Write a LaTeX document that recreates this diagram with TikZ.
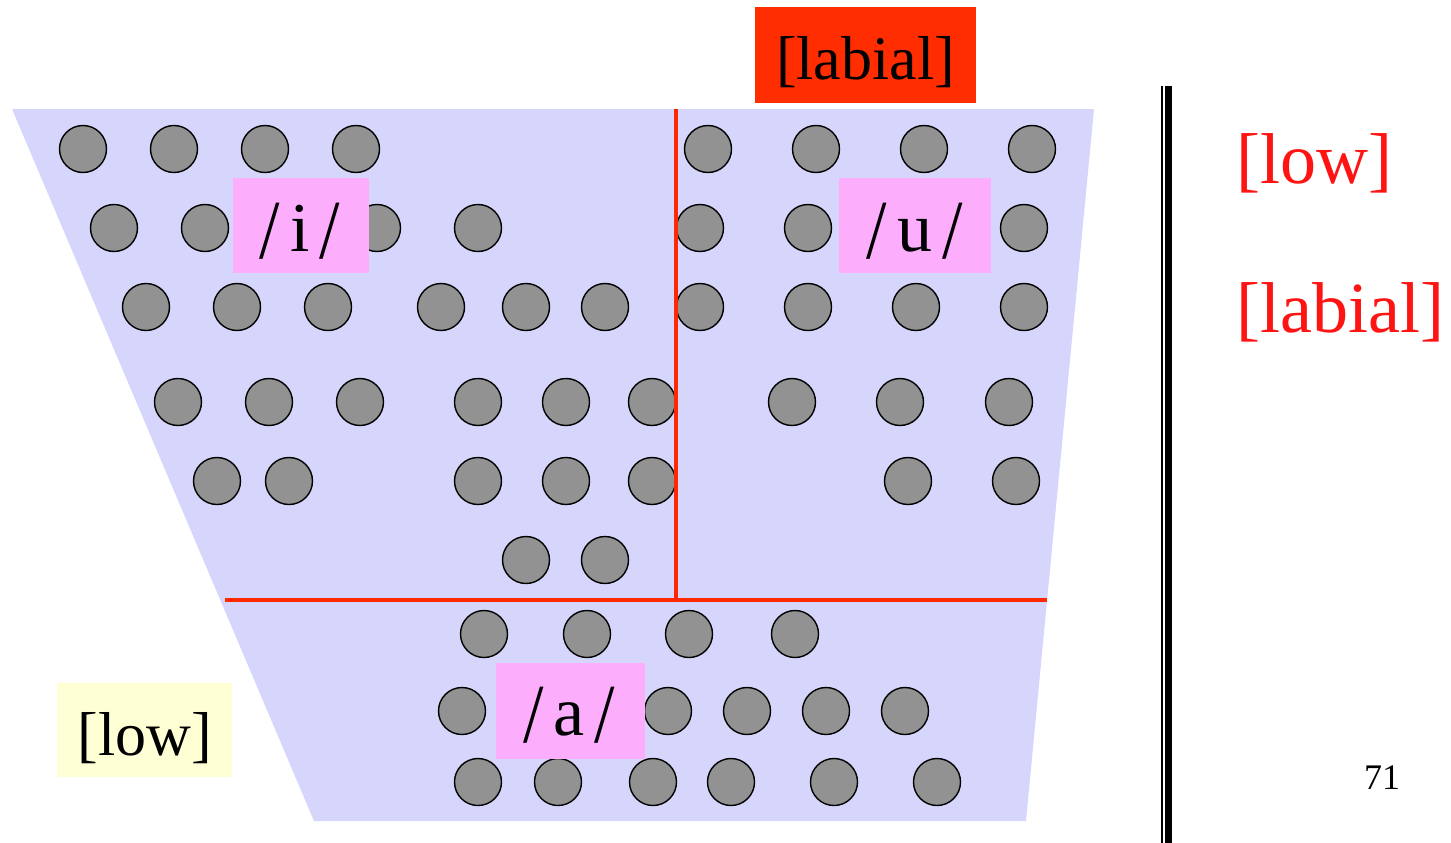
\documentclass[tikz,border=0pt]{standalone}
\usepackage{graphicx}
\usepackage{fontspec}
\setmainfont{Liberation Serif}
\definecolor{trapblue}{RGB}{214,214,252}
\definecolor{dotgray}{RGB}{146,146,146}
\definecolor{labpink}{RGB}{252,174,252}
\definecolor{boxred}{RGB}{255,45,0}
\definecolor{linered}{RGB}{255,40,0}
\definecolor{lowyellow}{RGB}{255,255,214}
\definecolor{textred}{RGB}{255,20,20}
\newcommand{\vsl}{\raisebox{-7pt}{\scalebox{1.05}[1.2]{/}}}
\newcommand{\phon}[1]{\vsl\hspace{10pt}#1\hspace{10pt}\vsl}
\begin{document}
\begin{tikzpicture}[x=1pt,y=-1pt,
  vdot/.style={circle,draw=black,line width=1.4pt,fill=dotgray,minimum size=47pt,inner sep=0pt},
  labbox/.style={rectangle,fill=labpink,inner sep=0pt},
  vowel/.style={anchor=base,inner sep=0pt,font=\fontsize{70}{74}\selectfont},
  bigtxt/.style={anchor=base,inner sep=0pt,font=\fontsize{62}{66}\selectfont},
  redtxt/.style={anchor=base west,inner sep=0pt,text=textred,font=\fontsize{72}{76}\selectfont},
  redline/.style={draw=linered,line width=4pt}]
\useasboundingbox (0,0) rectangle (1451,843);
% trapezoid
\fill[trapblue] (12,109) -- (1094,109) -- (1026,821) -- (314,821) -- cycle;
% dots
\foreach \x/\y [count=\i] in {
  83/149,174/149,265/149,356/149,708/149,816/149,924/149,1032/149,
  114/228,205/228,296/228,377/228,478/228,700/228,808/228,916/228,1024/228,
  146/307,237/307,328/307,441/307,526/307,605/307,700/307,808/307,916/307,1024/307,
  178/402,269/402,360/402,478/402,566/402,652/402,792/402,900/402,1009/402,
  217/481,289/481,478/481,566/481,652/481,908/481,1016/481,
  526/560,605/560,
  484/634,587/634,689/634,795/634,
  462/711,565/711,668/711,747/711,826/711,905/711,
  478/782,558/782,653/782,731/782,834/782,937/782}
  \node[vdot] (d\i) at (\x,\y) {};
% red dividing lines
\coordinate (vtop) at (676,109);
\coordinate (vbot) at (676,600);
\coordinate (hl) at (225,600);
\coordinate (hr) at (1047,600);
\draw[redline] (vtop) -- (vbot);
\draw[redline] (hl) -- (hr);
% vowel labels
\node[labbox,minimum width=136pt,minimum height=95pt] (ibox) at (301,225.5) {};
\node[vowel] (itxt) at (300,251) {\phon{i}};
\node[labbox,minimum width=152pt,minimum height=95pt] (ubox) at (915,225.5) {};
\node[vowel] (utxt) at (914.5,251) {\phon{u}};
\node[labbox,minimum width=149pt,minimum height=96pt] (abox) at (570.5,710.5) {};
\node[vowel] (atxt) at (569,735) {\phon{a}};
% [labial] top box
\node[rectangle,fill=boxred,inner sep=0pt,minimum width=221pt,minimum height=95pt] (labbox) at (865.5,55) {};
\node[bigtxt] (labtxt) at (865.5,80) {[labial]};
% [low] yellow box
\node[rectangle,fill=lowyellow,inner sep=0pt,minimum width=175pt,minimum height=94pt] (lowbox) at (144.5,730) {};
\node[bigtxt] (lowtxt) at (144.5,755) {[low]};
% double bar
\coordinate (b1t) at (1162,86);
\coordinate (b1b) at (1162,843);
\coordinate (b2t) at (1168.7,86);
\coordinate (b2b) at (1168.7,843);
\draw[line width=2pt] (b1t) -- (b1b);
\draw[line width=7pt] (b2t) -- (b2b);
% red features
\node[redtxt] (rlow) at (1236,183) {[low]};
\node[redtxt] (rlab) at (1236,332) {[labial]};
% page number
\node[anchor=base,inner sep=0pt,font=\fontsize{36}{40}\selectfont] (pnum) at (1382,789) {71};
\end{tikzpicture}
\end{document}
